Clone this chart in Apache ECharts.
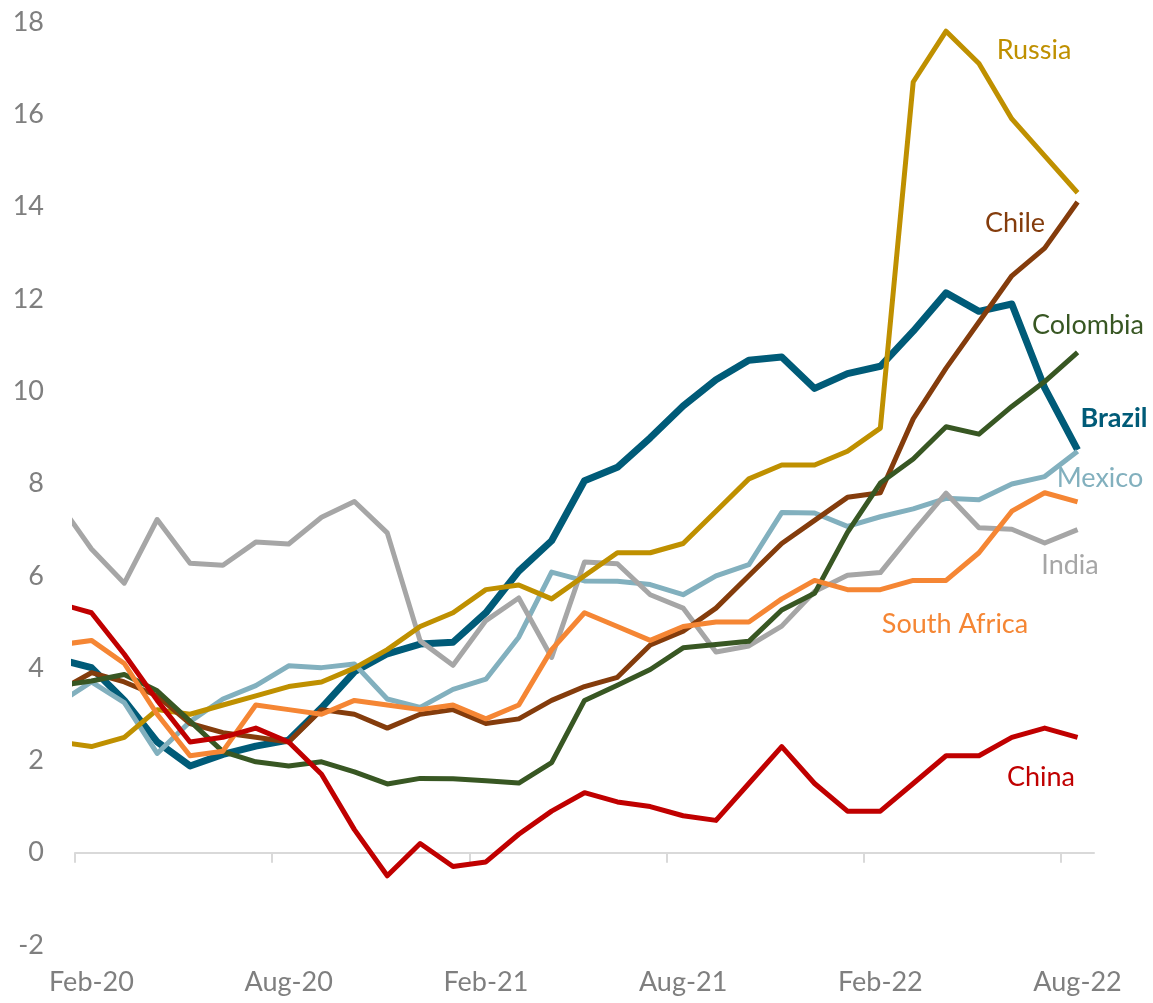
<!DOCTYPE html>
<html>
<head>
<meta charset="utf-8">
<script src="https://cdn.jsdelivr.net/npm/echarts@6.0.0/dist/echarts.min.js"></script>
<style>
  html, body { margin: 0; padding: 0; background: #fff; }
  #main { width: 1153px; height: 1003px; }
</style>
</head>
<body>
<div id="main"></div>
<script>
// months, Jan-20 is only used so the line enters from the left edge (clipped)
var months = ['Jan-20', 'Feb-20', 'Mar-20', 'Apr-20', 'May-20', 'Jun-20', 'Jul-20', 'Aug-20',
  'Sep-20', 'Oct-20', 'Nov-20', 'Dec-20', 'Jan-21', 'Feb-21', 'Mar-21', 'Apr-21', 'May-21',
  'Jun-21', 'Jul-21', 'Aug-21', 'Sep-21', 'Oct-21', 'Nov-21', 'Dec-21', 'Jan-22', 'Feb-22',
  'Mar-22', 'Apr-22', 'May-22', 'Jun-22', 'Jul-22', 'Aug-22'];
var tickMonths = ['Feb-20', 'Aug-20', 'Feb-21', 'Aug-21', 'Feb-22', 'Aug-22'];

var brazil = [4.19, 4.01, 3.30, 2.40, 1.88, 2.13, 2.31, 2.44, 3.14, 3.92, 4.31, 4.52, 4.56, 5.20,
  6.10, 6.76, 8.06, 8.35, 8.99, 9.68, 10.25, 10.67, 10.74, 10.06, 10.38, 10.54, 11.30, 12.13,
  11.73, 11.89, 10.07, 8.73];
var mexico = [3.24, 3.70, 3.25, 2.15, 2.84, 3.33, 3.62, 4.05, 4.01, 4.09, 3.33, 3.15, 3.54, 3.76,
  4.67, 6.08, 5.89, 5.88, 5.81, 5.59, 6.00, 6.24, 7.37, 7.36, 7.07, 7.28, 7.45, 7.68, 7.65, 7.99,
  8.15, 8.70];
var india = [7.59, 6.58, 5.84, 7.22, 6.27, 6.23, 6.73, 6.69, 7.27, 7.61, 6.93, 4.59, 4.06, 5.03,
  5.52, 4.23, 6.30, 6.26, 5.59, 5.30, 4.35, 4.48, 4.91, 5.66, 6.01, 6.07, 6.95, 7.79, 7.04, 7.01,
  6.71, 7.00];
var russia = [2.4, 2.3, 2.5, 3.1, 3.0, 3.2, 3.4, 3.6, 3.7, 4.0, 4.4, 4.9, 5.2, 5.7, 5.8, 5.5, 6.0,
  6.5, 6.5, 6.7, 7.4, 8.1, 8.4, 8.4, 8.7, 9.2, 16.7, 17.8, 17.1, 15.9, 15.1, 14.3];
var chile = [3.5, 3.9, 3.7, 3.4, 2.8, 2.6, 2.5, 2.4, 3.1, 3.0, 2.7, 3.0, 3.1, 2.8, 2.9, 3.3, 3.6,
  3.8, 4.5, 4.8, 5.3, 6.0, 6.7, 7.2, 7.7, 7.8, 9.4, 10.5, 11.5, 12.5, 13.1, 14.1];
var colombia = [3.62, 3.72, 3.86, 3.51, 2.85, 2.19, 1.97, 1.88, 1.97, 1.75, 1.49, 1.61, 1.60,
  1.56, 1.51, 1.95, 3.30, 3.63, 3.97, 4.44, 4.51, 4.58, 5.26, 5.62, 6.94, 8.01, 8.53, 9.23, 9.07,
  9.67, 10.21, 10.84];
var southAfrica = [4.5, 4.6, 4.1, 3.0, 2.1, 2.2, 3.2, 3.1, 3.0, 3.3, 3.2, 3.1, 3.2, 2.9, 3.2, 4.4,
  5.2, 4.9, 4.6, 4.9, 5.0, 5.0, 5.5, 5.9, 5.7, 5.7, 5.9, 5.9, 6.5, 7.4, 7.8, 7.6];
var china = [5.4, 5.2, 4.3, 3.3, 2.4, 2.5, 2.7, 2.4, 1.7, 0.5, -0.5, 0.2, -0.3, -0.2, 0.4, 0.9,
  1.3, 1.1, 1.0, 0.8, 0.7, 1.5, 2.3, 1.5, 0.9, 0.9, 1.5, 2.1, 2.1, 2.5, 2.7, 2.5];

var chartDom = document.getElementById('main');
var myChart = echarts.init(chartDom, null, { renderer: 'canvas' });

var font = 'Lato';
var tickColor = '#7f7f7f';

// each month sits in the middle of its band: Feb-20 -> 0.5
function toPoints(values) {
  return values.map(function (v, i) {
    return [i - 0.5, v];
  });
}

function lineSeries(name, values, color, width) {
  return {
    type: 'line',
    name: name,
    xAxisIndex: 0,
    data: toPoints(values),
    showSymbol: false,
    symbol: 'none',
    clip: true,
    animation: false,
    lineStyle: { color: color, width: width, join: 'round', cap: 'butt' },
    itemStyle: { color: color },
    emphasis: { disabled: true }
  };
}

function seriesLabel(text, x, y, color, bold) {
  return {
    type: 'text',
    x: x,
    y: y,
    style: {
      text: text,
      fill: color,
      font: (bold ? 'bold ' : '') + '27px ' + font,
      align: 'center',
      verticalAlign: 'middle'
    }
  };
}

var labelValues = tickMonths.map(function (m) { return months.indexOf(m) - 0.5; });
var tickValues = tickMonths.map(function (m) { return months.indexOf(m) - 1; });

var option = {
  backgroundColor: '#fff',
  textStyle: { fontFamily: font },
  grid: { left: 75, right: 59, top: 22, bottom: 58, containLabel: false, outerBoundsMode: 'none' },
  xAxis: [
    {
      // line at zero with the ticks
      type: 'value',
      position: 'bottom',
      min: 0,
      max: 31,
      axisLine: { show: true, onZero: true, lineStyle: { color: '#d9d9d9', width: 2 } },
      axisTick: { show: true, length: 10, customValues: tickValues, lineStyle: { color: '#d9d9d9', width: 2 } },
      axisLabel: { show: false },
      splitLine: { show: false }
    },
    {
      // month labels along the bottom
      type: 'value',
      position: 'bottom',
      min: 0,
      max: 31,
      axisLine: { show: false, onZero: false },
      axisTick: { show: false },
      splitLine: { show: false },
      axisLabel: {
        customValues: labelValues,
        margin: 24,
        color: tickColor,
        fontSize: 27,
        fontFamily: font,
        formatter: function (v) {
          return months[Math.round(v + 0.5)];
        }
      }
    }
  ],
  yAxis: {
    type: 'value',
    min: -2,
    max: 18,
    interval: 2,
    axisLine: { show: false },
    axisTick: { show: false },
    splitLine: { show: false },
    axisLabel: { color: tickColor, fontSize: 27, fontFamily: font, margin: 31 }
  },
  series: [
    lineSeries('Brazil', brazil, '#005b78', 7),
    lineSeries('Mexico', mexico, '#82b0be', 5),
    lineSeries('India', india, '#a6a6a6', 5),
    lineSeries('Russia', russia, '#bf9000', 5),
    lineSeries('Chile', chile, '#843c0c', 5),
    lineSeries('Colombia', colombia, '#385723', 5),
    lineSeries('South Africa', southAfrica, '#f58634', 5),
    lineSeries('China', china, '#c00000', 5)
  ],
  graphic: [
    seriesLabel('Russia', 1034, 50, '#bf9000'),
    seriesLabel('Chile', 1015, 223, '#843c0c'),
    seriesLabel('Colombia', 1088, 325, '#385723'),
    seriesLabel('Brazil', 1114, 418, '#005b78', true),
    seriesLabel('Mexico', 1100, 478, '#82b0be'),
    seriesLabel('India', 1070, 565, '#a6a6a6'),
    seriesLabel('South Africa', 955, 624, '#f58634'),
    seriesLabel('China', 1041, 777, '#c00000')
  ]
};

myChart.setOption(option);
</script>
</body>
</html>
